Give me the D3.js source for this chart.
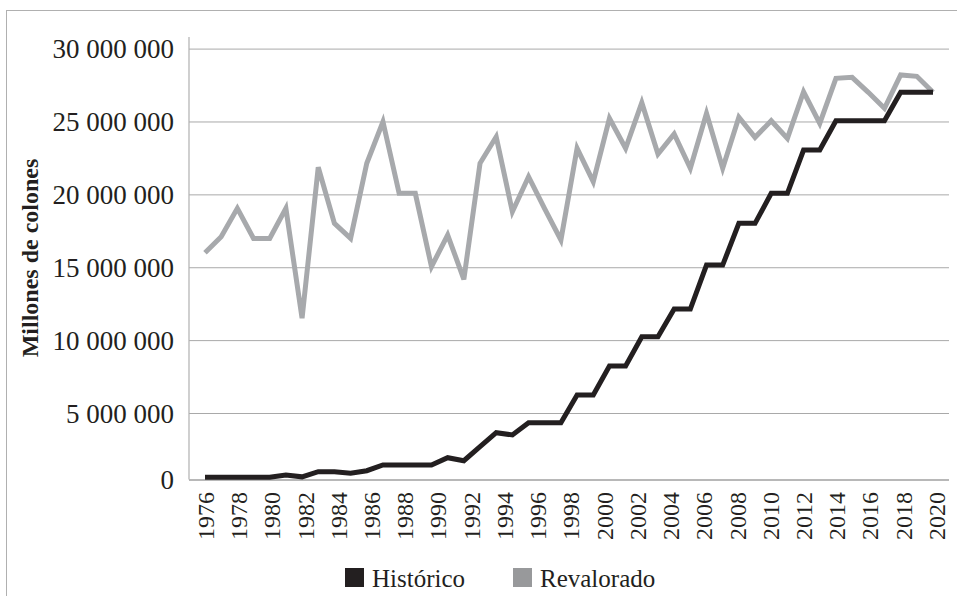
<!DOCTYPE html>
<html>
<head>
<meta charset="utf-8">
<script src="https://cdn.jsdelivr.net/npm/d3@7"></script>
<style>
  body { margin: 0; background: #fff; }
  svg { display: block; }
  text { font-family: "Liberation Serif", "DejaVu Serif", serif; fill: #231f20; }
</style>
</head>
<body>
<svg id="chart" width="957" height="596"></svg>
<script>
// ---------- data (millones de colones) ----------
const tickYears = ["1976","1978","1980","1982","1984","1986","1988","1990","1992","1994","1996","1998",
                   "2000","2002","2004","2006","2008","2010","2012","2014","2016","2018","2020"];

const historico = [0.17,0.17,0.17,0.17,0.17,0.34,0.2,0.59,0.59,0.47,0.66,1.09,1.09,1.09,1.09,1.64,1.41,
                   2.47,3.52,3.35,4.27,4.27,4.27,6.23,6.23,8.22,8.22,10.23,10.23,12.13,12.13,15.15,15.15,
                   18.01,18.01,20.07,20.07,23.04,23.04,25.05,25.05,25.05,25.05,27.0,27.0,27.0];

const revalorado = [16.0,17.09,19.04,16.98,16.98,19.04,11.5,21.86,18.01,16.98,22.13,24.98,20.07,20.07,15.04,
                    17.21,14.17,22.13,23.95,18.81,21.21,19.0,16.87,23.16,20.87,25.22,23.16,26.29,22.77,24.14,
                    21.79,25.56,21.79,25.29,23.91,25.05,23.84,27.04,24.87,27.96,28.03,27.0,25.9,28.19,28.1,27.0];

const yTicks = [0, 5000000, 10000000, 15000000, 20000000, 25000000, 30000000];
const seriesNames = ["Histórico", "Revalorado"];
const seriesColors = ["#231f20", "#a7a9ac"];
const legendColors = ["#231f20", "#98999b"];
const yTitle = "Millones de colones";

// ---------- layout ----------
const svg = d3.select("#chart");
const plotLeft = 189, plotRight = 949;

// outer frame (top and left edges visible)
svg.append("rect")
  .attr("x", 6.5).attr("y", 10.5).attr("width", 1200).attr("height", 1000)
  .attr("fill", "none").attr("stroke", "#b0b0b0").attr("stroke-width", 1);

// scales
const y = d3.scaleLinear().domain([0, 5000000, 30000000]).range([479.5, 413, 48.6]);
const xData = d3.scalePoint().domain(d3.range(historico.length)).range([205, 933]);
const xLabels = d3.scalePoint().domain(tickYears).range([205, 936]);

const fmt = d3.formatLocale({decimal: ",", thousands: "\u00a0", grouping: [3], currency: ["", ""]}).format(",d");

// y axis with gridlines
const yAxis = svg.append("g")
  .attr("transform", `translate(${plotLeft},0)`)
  .call(d3.axisLeft(y).tickValues(yTicks).tickSize(-(plotRight - plotLeft)).tickPadding(15).tickFormat(fmt));
yAxis.select(".domain").remove();
yAxis.selectAll(".tick line")
  .attr("stroke", d => d === 0 ? "#b8b8b8" : "#a9a9a9")
  .attr("stroke-width", d => d === 0 ? 2 : 1);
yAxis.selectAll(".tick text")
  .attr("dy", "0.34em")
  .style("font-size", "27px")
  .style("font-family", "'Liberation Serif', serif")
  .attr("fill", "#231f20");

// vertical axis line
svg.append("line")
  .attr("x1", plotLeft).attr("x2", plotLeft)
  .attr("y1", 37).attr("y2", y(0))
  .attr("stroke", "#b0b0b0").attr("stroke-width", 1.2);

// x axis labels
const xAxis = svg.append("g")
  .attr("transform", `translate(0,${y(0)})`)
  .call(d3.axisBottom(xLabels).tickSize(0));
xAxis.select(".domain").remove();
xAxis.selectAll(".tick text")
  .attr("transform", "rotate(-90)")
  .attr("x", -12.5).attr("y", 0).attr("dy", "0.35em")
  .style("text-anchor", "end")
  .style("font-size", "24px")
  .style("font-family", "'Liberation Serif', serif")
  .attr("fill", "#231f20");

// y title
svg.append("text")
  .attr("transform", "translate(38,258) rotate(-90)")
  .attr("text-anchor", "middle")
  .style("font-size", "24px")
  .style("font-weight", "bold")
  .text(yTitle);

// lines
const line = d3.line().x((d, i) => xData(i)).y(d => y(d * 1e6));
[revalorado, historico].forEach((s, k) => {
  const idx = k === 0 ? 1 : 0;
  svg.append("path")
    .datum(s)
    .attr("d", line)
    .attr("fill", "none")
    .attr("stroke", seriesColors[idx])
    .attr("stroke-width", 5)
    .attr("stroke-linejoin", "miter")
    .attr("stroke-linecap", "butt");
});

// legend
const legendX = [345, 513];
const legend = svg.append("g");
seriesNames.forEach((name, i) => {
  const g = legend.append("g").attr("transform", `translate(${legendX[i]},568)`);
  g.append("rect").attr("width", 19).attr("height", 19).attr("fill", legendColors[i]);
  g.append("text").attr("x", 27).attr("y", 18.5)
    .style("font-size", "25px")
    .text(name);
});
</script>
</body>
</html>
